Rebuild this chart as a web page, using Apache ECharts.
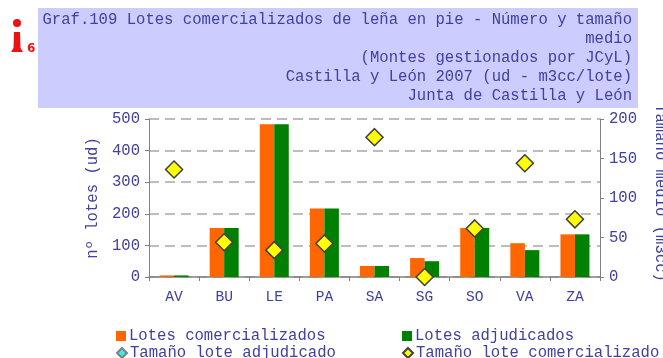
<!DOCTYPE html>
<html><head><meta charset="utf-8">
<style>html,body{margin:0;padding:0;background:#fff}#c{width:663px;height:358px}</style>
<script src="https://cdn.jsdelivr.net/npm/echarts@6/dist/echarts.min.js"></script>
</head><body><div id="c"></div>
<script>
const categories = ['AV','BU','LE','PA','SA','SG','SO','VA','ZA'];
const lotesComercializados = [5,155,483,217,35,60,155,107,135];
const lotesAdjudicados = [5,155,483,217,35,50,155,85,135];
const tamanoAdjudicado = [136,44,34,42.5,177,0,61.5,144,73];
const tamanoComercializado = [136,44,34,42.5,177,0,61.5,144,73];
const titleLines = [
  'Graf.109 Lotes comercializados de leña en pie - Número y tamaño',
  'medio',
  '(Montes gestionados por JCyL)',
  'Castilla y León 2007 (ud - m3cc/lote)',
  'Junta de Castilla y León'
];
const FONT = '"Liberation Mono", monospace';
const INK = '#4040a0';
const FS = 15.6;
const chart = echarts.init(document.getElementById('c'), null, {renderer:'canvas'});
const legendBase = {itemWidth:10,itemHeight:10,itemGap:0,padding:0,textStyle:{color:INK,fontFamily:FONT,fontSize:FS,padding:[0,0,0,-2]}};
chart.setOption({
  animation:false,
  backgroundColor:'#fff',
  grid:{left:149,right:63,top:119,height:158,containLabel:false,outerBoundsMode:'none'},
  xAxis:{type:'category',data:categories,
    axisLine:{lineStyle:{color:'#808080',width:1.5}},
    axisTick:{show:true,alignWithLabel:false,length:4,lineStyle:{color:'#808080'}},
    axisLabel:{color:INK,fontFamily:FONT,fontSize:FS-1,margin:13}},
  yAxis:[
    {type:'value',min:0,max:500,interval:100,name:'nº lotes (ud)',nameLocation:'middle',nameRotate:90,nameGap:46,
     nameTextStyle:{color:INK,fontFamily:FONT,fontSize:FS},
     axisLine:{show:true,lineStyle:{color:'#808080'}},
     axisTick:{show:true,length:4,lineStyle:{color:'#808080'}},
     axisLabel:{color:INK,fontFamily:FONT,fontSize:FS,margin:9},
     splitLine:{show:true,lineStyle:{color:'#a8a8a8',type:[10,6],width:1.5}}},
    {type:'value',min:0,max:200,interval:50,position:'right',name:'Tamaño medio (m3cc)',nameLocation:'middle',nameRotate:-90,nameGap:52,
     nameTextStyle:{color:INK,fontFamily:FONT,fontSize:FS,padding:[0,10,0,0]},
     axisLine:{show:true,lineStyle:{color:'#808080'}},
     axisTick:{show:true,length:4,lineStyle:{color:'#808080'}},
     axisLabel:{color:INK,fontFamily:FONT,fontSize:FS,margin:9},
     splitLine:{show:false}}
  ],
  legend:[
    Object.assign({},legendBase,{left:116,top:328,data:[{name:'Lotes comercializados',icon:'rect'}]}),
    Object.assign({},legendBase,{left:402,top:328,data:[{name:'Lotes adjudicados',icon:'rect'}]}),
    Object.assign({},legendBase,{left:116,top:345,data:[{name:'Tamaño lote adjudicado',icon:'diamond'}]}),
    Object.assign({},legendBase,{left:402,top:345,data:[{name:'Tamaño lote comercializado',icon:'diamond'}]})
  ],
  series:[
    {name:'Lotes comercializados',type:'bar',data:lotesComercializados,barWidth:14.5,barGap:0,itemStyle:{color:'#ff6600'}},
    {name:'Lotes adjudicados',type:'bar',data:lotesAdjudicados,barWidth:14.5,barGap:0,itemStyle:{color:'#008000'}},
    {name:'Tamaño lote adjudicado',type:'scatter',yAxisIndex:1,data:tamanoAdjudicado,symbol:'diamond',symbolSize:16,z:3,
     itemStyle:{color:'#33eeee',borderColor:'#808080',borderWidth:1.5,opacity:1}},
    {name:'Tamaño lote comercializado',type:'scatter',yAxisIndex:1,data:tamanoComercializado,symbol:'diamond',symbolSize:17,z:4,
     clip:false,itemStyle:{color:'#ffff00',borderColor:'#404040',borderWidth:1.5,opacity:1}}
  ],
  graphic:[
    {type:'rect',x:38,y:8,shape:{width:600,height:100},style:{fill:'#ccccff'},z:10},
    ...titleLines.map((t,i)=>({type:'text',x:632,y:11.5+i*19,z:11,style:{text:t,fill:INK,font:FS+'px '+FONT,align:'right',verticalAlign:'top'}})),
    {type:'circle',shape:{cx:17,cy:23,r:4},style:{fill:'#ee1111'},z:11},
    {type:'polygon',shape:{points:[[14,32],[20,32],[20.5,48],[23,52],[11,52],[13.5,48]]},style:{fill:'#ee1111'},z:11},
    {type:'text',x:27,y:43,z:11,style:{text:'6',fill:'#ee1111',font:'bold 12px "DejaVu Sans", sans-serif'}}
  ]
});
</script></body></html>
